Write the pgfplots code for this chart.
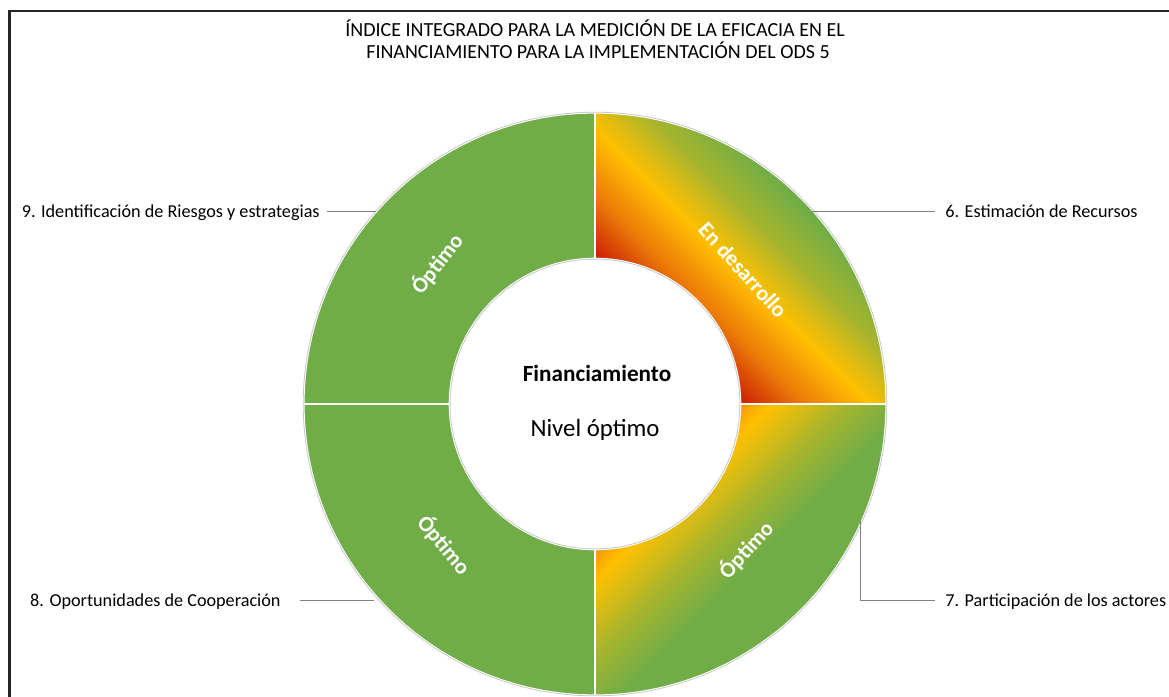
\documentclass[border=0pt]{standalone}
\usepackage{fontspec}
\setmainfont{Carlito}
\usepackage{pgfplots}
\usepackage{pgfplotstable}
\pgfplotsset{compat=1.18}

\definecolor{okgreen}{HTML}{70AD47}
\definecolor{dred}{HTML}{C00000}
\definecolor{dorange}{HTML}{EC7A08}
\definecolor{dyellow}{HTML}{FFC000}
\definecolor{dolive}{HTML}{A8B52C}
\definecolor{lorange}{HTML}{EE8A10}
\definecolor{leader}{HTML}{808080}
\definecolor{ringline}{HTML}{C8C8C8}

\pgfdeclarehorizontalshading{segsix}{100bp}{color(0bp)=(dred); color(30bp)=(dred); color(40bp)=(dorange); color(48bp)=(dyellow); color(56bp)=(dolive); color(64bp)=(okgreen); color(100bp)=(okgreen)}
\pgfdeclarehorizontalshading{segseven}{100bp}{color(0bp)=(lorange); color(31bp)=(lorange); color(36bp)=(dyellow); color(45bp)=(dolive); color(53bp)=(okgreen); color(100bp)=(okgreen)}

% data: the four components of the index (equal shares)
\pgfplotstableread{
seg value
6 25
7 25
8 25
9 25
}\donutdata

\pgfplotstablegetelem{0}{value}\of\donutdata \let\vA\pgfplotsretval
\pgfplotstablegetelem{1}{value}\of\donutdata \let\vB\pgfplotsretval
\pgfplotstablegetelem{2}{value}\of\donutdata \let\vC\pgfplotsretval
\pgfplotstablegetelem{3}{value}\of\donutdata \let\vD\pgfplotsretval
\pgfmathsetmacro\total{\vA+\vB+\vC+\vD}
\pgfmathsetmacro\aA{90}
\pgfmathsetmacro\aB{\aA-360*\vA/\total}
\pgfmathsetmacro\aC{\aB-360*\vB/\total}
\pgfmathsetmacro\aD{\aC-360*\vC/\total}
\pgfmathsetmacro\aE{\aD-360*\vD/\total}

\def\Ro{145.6pt}
\def\Ri{72.75pt}

\newcommand\segfont{\fontsize{11}{13}\selectfont\bfseries}
\newcommand\lblfont{\fontsize{9.1}{11}\selectfont}
\newcommand\ttlfont{\fontsize{10}{12}\selectfont}

\begin{document}
\begin{tikzpicture}
\begin{axis}[
  width=584.5pt, height=348pt, scale only axis,
  xmin=0, xmax=1169, ymin=0, ymax=696, y dir=reverse,
  hide axis, clip=false]

% frame
\draw[black!85, line width=1.1pt] (axis cs:9.5,720) -- (axis cs:9.5,11) -- (axis cs:1200,11);

% title
\node[inner sep=0, anchor=base] at (axis cs:595,36) {\ttlfont ÍNDICE INTEGRADO PARA LA MEDICIÓN DE LA EFICACIA EN EL};
\node[inner sep=0, anchor=base] at (axis cs:598,58) {\ttlfont FINANCIAMIENTO PARA LA IMPLEMENTACIÓN DEL ODS 5};

% donut segments
\path[shift={(axis cs:595,404)}, shade, shading=segsix, shading angle=45, draw=white, line width=0.8pt]
  (\aA:\Ro) arc[start angle=\aA, end angle=\aB, radius=\Ro] -- (\aB:\Ri) arc[start angle=\aB, end angle=\aA, radius=\Ri] -- cycle;
\path[shift={(axis cs:595,404)}, shade, shading=segseven, shading angle=-45, draw=white, line width=0.8pt]
  (\aB:\Ro) arc[start angle=\aB, end angle=\aC, radius=\Ro] -- (\aC:\Ri) arc[start angle=\aC, end angle=\aB, radius=\Ri] -- cycle;
\path[shift={(axis cs:595,404)}, fill=okgreen, draw=white, line width=0.8pt]
  (\aC:\Ro) arc[start angle=\aC, end angle=\aD, radius=\Ro] -- (\aD:\Ri) arc[start angle=\aD, end angle=\aC, radius=\Ri] -- cycle;
\path[shift={(axis cs:595,404)}, fill=okgreen, draw=white, line width=0.8pt]
  (\aD:\Ro) arc[start angle=\aD, end angle=\aE, radius=\Ro] -- (\aE:\Ri) arc[start angle=\aE, end angle=\aD, radius=\Ri] -- cycle;
\draw[shift={(axis cs:595,404)}, ringline, line width=0.4pt] (0,0) circle[radius=\Ro+0.3pt];
\draw[shift={(axis cs:595,404)}, ringline, line width=0.4pt] (0,0) circle[radius=\Ri-0.3pt];

% segment labels
\node[inner sep=0, rotate=-48, text=white] at (axis cs:743,270) {\segfont En desarrollo};
\node[inner sep=0, rotate=48, text=white] at (axis cs:746,550) {\segfont Óptimo};
\node[inner sep=0, rotate=-50, text=white] at (axis cs:444,545) {\segfont Óptimo};
\node[inner sep=0, rotate=52, text=white] at (axis cs:437,264) {\segfont Óptimo};

% centre text
\node[inner sep=0, anchor=base] at (axis cs:597,381) {\fontsize{11.6}{13}\selectfont\bfseries Financiamiento};
\node[inner sep=0, anchor=base] at (axis cs:595,436) {\fontsize{12.4}{14}\selectfont Nivel óptimo};

% leader lines
\draw[leader, line width=0.5pt] (axis cs:812,211) -- (axis cs:935,211);
\draw[leader, line width=0.5pt] (axis cs:860,521) -- (axis cs:860,600) -- (axis cs:935,600);
\draw[leader, line width=0.5pt] (axis cs:374,600) -- (axis cs:300,600);
\draw[leader, line width=0.5pt] (axis cs:376,211) -- (axis cs:327,211);

% category labels
\node[inner sep=0, anchor=base west] at (axis cs:945,217) {\lblfont 6. Estimación de Recursos};
\node[inner sep=0, anchor=base west] at (axis cs:945,606) {\lblfont 7. Participación de los actores};
\node[inner sep=0, anchor=base east] at (axis cs:281,606) {\lblfont 8. Oportunidades de Cooperación};
\node[inner sep=0, anchor=base east] at (axis cs:320,217) {\lblfont 9. Identificación de Riesgos y estrategias};
\end{axis}
\pgfresetboundingbox
\useasboundingbox (current axis.south west) rectangle (current axis.north east);
\end{tikzpicture}
\end{document}
